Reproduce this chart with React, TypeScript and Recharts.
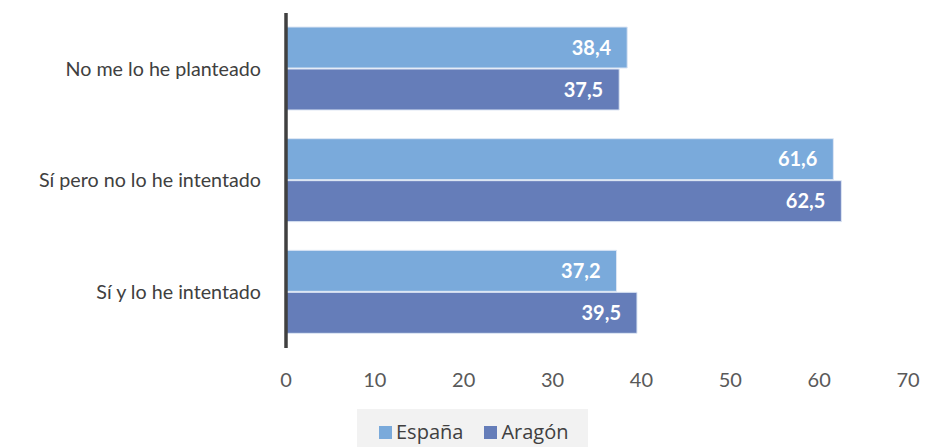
import { BarChart, Bar, XAxis, YAxis, Legend, LabelList } from "recharts";

const categories = ["No me lo he planteado", "Sí pero no lo he intentado", "Sí y lo he intentado"];
const espana = [38.4, 61.6, 37.2];
const aragon = [37.5, 62.5, 39.5];
const xTicks = [0, 10, 20, 30, 40, 50, 60, 70];

const chartData = categories.map((name, i) => ({ name, espana: espana[i], aragon: aragon[i] }));

const ESPANA = "#7aaadb";
const ARAGON = "#657db9";

const fmt = (v: any) => Number(v).toFixed(1).replace(".", ",");

function LegendBox() {
  const item = (color: string, label: string, ml: number) => (
    <div style={{ display: "flex", alignItems: "center", marginLeft: ml }}>
      <span style={{ width: 13, height: 13, background: color, display: "inline-block", marginRight: 4 }} />
      <span>{label}</span>
    </div>
  );
  return (
    <div
      style={{
        background: "#f2f2f2",
        height: 38,
        width: 231,
        boxSizing: "border-box",
        paddingTop: 8,
        display: "flex",
        alignItems: "center",
        fontFamily: "'Open Sans', sans-serif",
        fontSize: 20,
        color: "#404040",
        lineHeight: "24px",
      }}
    >
      {item(ESPANA, "España", 22)}
      {item(ARAGON, "Aragón", 21)}
    </div>
  );
}

export default function App() {
  return (
    <div style={{ position: "absolute", left: 0, top: 0, width: 927, height: 447, background: "#fff", fontFamily: "Lato, sans-serif" }}>
      <BarChart
        width={927}
        height={447}
        data={chartData}
        layout="vertical"
        margin={{ top: 13, right: 19, bottom: 0, left: 0 }}
        barSize={41}
        barGap={1}
      >
        <XAxis
          type="number"
          domain={[0, 70]}
          ticks={xTicks}
          height={61}
          axisLine={false}
          tickLine={false}
          tickSize={6}
          tickMargin={19}
          tick={{ fill: "#595959", fontSize: 20 }}
        />
        <Legend
          verticalAlign="bottom"
          content={() => <LegendBox />}
          wrapperStyle={{ left: 357, bottom: 0, width: 231, height: 38 }}
        />
        <Bar dataKey="espana" name="España" fill={ESPANA} stroke="#dde6f4" strokeWidth={1} isAnimationActive={false}>
          <LabelList dataKey="espana" position="insideRight" offset={16} formatter={fmt} fill="#fff" fontSize={20} fontWeight="bold" />
        </Bar>
        <Bar dataKey="aragon" name="Aragón" fill={ARAGON} stroke="#dde6f4" strokeWidth={1} isAnimationActive={false}>
          <LabelList dataKey="aragon" position="insideRight" offset={16} formatter={fmt} fill="#fff" fontSize={20} fontWeight="bold" />
        </Bar>
        <YAxis
          type="category"
          dataKey="name"
          width={286}
          axisLine={{ stroke: "#404040", strokeWidth: 3.5 }}
          tickLine={false}
          tickSize={6}
          tickMargin={19}
          tick={{ fill: "#404040", fontSize: 19.7 }}
        />
      </BarChart>
    </div>
  );
}
